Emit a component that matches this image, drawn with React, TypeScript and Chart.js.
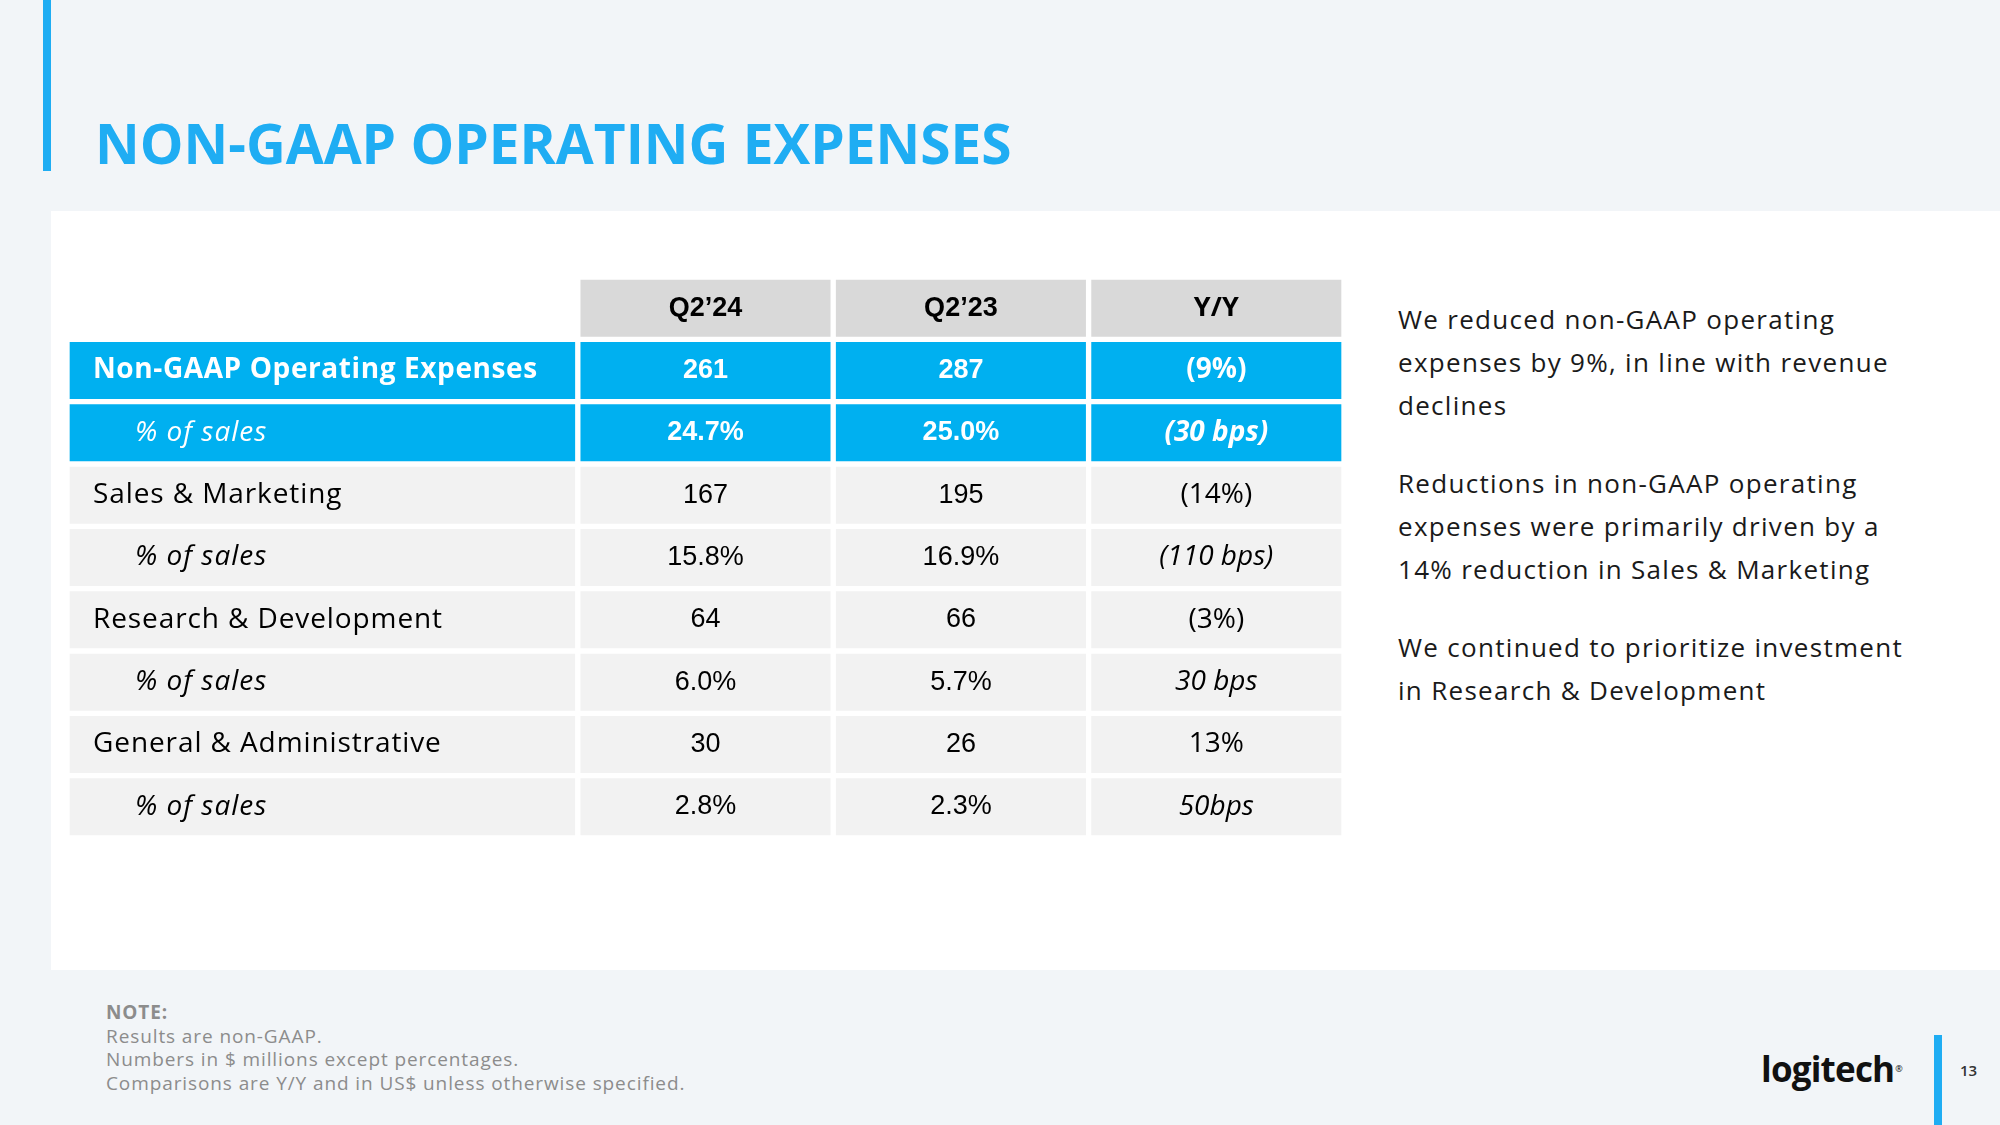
import React, { useEffect, useRef } from "react";
import { Chart, registerables } from "chart.js";

Chart.register(...registerables);

// ---------- data ----------
const rowLabels = [
  "",
  "Non-GAAP Operating Expenses",
  "% of sales",
  "Sales & Marketing",
  "% of sales",
  "Research & Development",
  "% of sales",
  "General & Administrative",
  "% of sales",
];
const columnHeaders = ["Q2’24", "Q2’23", "Y/Y"];
const q224Values = ["261", "24.7%", "167", "15.8%", "64", "6.0%", "30", "2.8%"];
const q223Values = ["287", "25.0%", "195", "16.9%", "66", "5.7%", "26", "2.3%"];
const yoyValues = ["(9%)", "(30 bps)", "(14%)", "(110 bps)", "(3%)", "30 bps", "13%", "50bps"];
const highlightedRows = [1, 2];
const subRows = [2, 4, 6, 8];

const commentary = [
  ["We reduced non-GAAP operating", "expenses by 9%, in line with revenue", "declines"],
  ["Reductions in non-GAAP operating", "expenses were primarily driven by a", "14% reduction in Sales & Marketing"],
  ["We continued to prioritize investment", "in Research & Development"],
];
const noteTitle = "NOTE:";
const noteLines = [
  "Results are non-GAAP.",
  "Numbers in $ millions except percentages.",
  "Comparisons are Y/Y and in US$ unless otherwise specified.",
];
const slideTitle = "NON-GAAP OPERATING EXPENSES";
const pageNumber = "13";

// ---------- styles ----------
const BLUE = "#1fadf3";
const TABLE_BLUE = "#00b0f0";
const HEADER_GREY = "#d9d9d9";
const CELL_GREY = "#f2f2f2";
const BG = "#f2f5f8";
const SANS = "'Open Sans', sans-serif";
const NUM = "'Liberation Sans', Arial, sans-serif";

const valueColumns = [q224Values, q223Values, yoyValues];

function cellColor(i: number) {
  if (i === 0) return HEADER_GREY;
  if (highlightedRows.includes(i)) return TABLE_BLUE;
  return CELL_GREY;
}

const tableTextPlugin = {
  id: "tableText",
  afterDatasetsDraw(chart: any) {
    const ctx = chart.ctx;
    ctx.save();
    ctx.textBaseline = "middle";
    chart.data.datasets.forEach((ds: any, di: number) => {
      const meta = chart.getDatasetMeta(di);
      meta.data.forEach((el: any, i: number) => {
        if (ds.data[i] == null) return;
        const { x, y, base } = el.getProps(["x", "y", "base"], true);
        const left = Math.min(x, base);
        const right = Math.max(x, base);
        const hl = highlightedRows.includes(i);
        const sub = subRows.includes(i);
        ctx.fillStyle = hl ? "#ffffff" : "#000000";
        if (di === 0) {
          const text = rowLabels[i];
          ctx.textAlign = "left";
          if (i === 1) {
            ctx.font = `700 28px ${SANS}`;
            ctx.letterSpacing = "0.6px";
          } else if (sub) {
            ctx.font = `italic 400 28px ${SANS}`;
            ctx.letterSpacing = "1px";
          } else {
            ctx.font = `400 28px ${SANS}`;
            ctx.letterSpacing = "0.9px";
          }
          ctx.fillText(text, left + (sub ? 68 : 26), y);
          ctx.letterSpacing = "0px";
          return;
        }
        const c = di - 1;
        const text = i === 0 ? columnHeaders[c] : valueColumns[c][i - 1];
        ctx.textAlign = "center";
        if (i === 0) {
          ctx.font = c === 2 ? `700 27px ${SANS}` : `700 27px ${NUM}`;
        } else if (c < 2) {
          ctx.font = `${hl ? 700 : 400} 27px ${NUM}`;
        } else {
          const it = text.includes("bps") ? "italic " : "";
          ctx.font = `${it}${hl ? 700 : 400} 28px ${SANS}`;
        }
        ctx.fillText(text, (left + right) / 2, y);
      });
    });
    ctx.restore();
  },
};

function TableChart() {
  const ref = useRef<HTMLCanvasElement>(null);
  useEffect(() => {
    if (!ref.current) return;
    const common = {
      backgroundColor: rowLabels.map((_, i) => cellColor(i)),
      borderColor: "#ffffff",
      borderWidth: 3,
      borderSkipped: false,
      barPercentage: 1,
      categoryPercentage: 1,
      grouped: false,
    };
    const chart = new Chart(ref.current, {
      type: "bar",
      data: {
        labels: rowLabels,
        datasets: [
          { label: "Line item", data: rowLabels.map((_, i) => (i === 0 ? null : [0, 2])), ...common } as any,
          ...columnHeaders.map((h, c) => ({
            label: h,
            data: rowLabels.map(() => [2 + c, 3 + c]),
            ...common,
          })) as any,
        ],
      },
      options: {
        indexAxis: "y",
        responsive: false,
        maintainAspectRatio: false,
        animation: false,
        devicePixelRatio: 1,
        layout: { padding: 0 },
        plugins: { legend: { display: false }, tooltip: { enabled: false } },
        scales: {
          x: { type: "linear", min: 0, max: 5, display: false },
          y: { type: "category", display: false, offset: true },
        },
      } as any,
      plugins: [tableTextPlugin],
    });
    return () => chart.destroy();
  }, []);
  return (
    <canvas
      ref={ref}
      width={1277}
      height={561}
      style={{ position: "absolute", left: 67, top: 277, width: 1277, height: 561 }}
    />
  );
}

export default function App() {
  return (
    <div
      style={{
        position: "absolute",
        left: 0,
        top: 0,
        width: 2000,
        height: 1125,
        background: BG,
        overflow: "hidden",
        fontFamily: SANS,
      }}
    >
      <div style={{ position: "absolute", left: 43, top: 0, width: 8, height: 171, background: BLUE }} />
      <div
        style={{
          position: "absolute",
          left: 95,
          top: 115,
          fontSize: 55,
          lineHeight: "55px",
          fontWeight: 700,
          color: BLUE,
          whiteSpace: "nowrap",
        }}
      >
        {slideTitle}
      </div>
      <div style={{ position: "absolute", left: 51, top: 211, width: 1949, height: 759, background: "#ffffff" }} />
      <TableChart />
      <div
        style={{
          position: "absolute",
          left: 1398,
          top: 298,
          color: "#1a1a1a",
          fontSize: 26,
          lineHeight: "43px",
          letterSpacing: 1.3,
        }}
      >
        {commentary.map((para, pi) => (
          <div key={pi} style={{ marginBottom: 35 }}>
            {para.map((line, li) => (
              <div key={li} style={{ whiteSpace: "nowrap" }}>
                {line}
              </div>
            ))}
          </div>
        ))}
      </div>
      <div
        style={{
          position: "absolute",
          left: 106,
          top: 1001,
          color: "#8c8c8c",
          fontSize: 19,
          lineHeight: "23.7px",
          letterSpacing: 0.9,
        }}
      >
        <div style={{ fontWeight: 700 }}>{noteTitle}</div>
        {noteLines.map((l, i) => (
          <div key={i} style={{ whiteSpace: "nowrap" }}>
            {l}
          </div>
        ))}
      </div>
      <div
        style={{
          position: "absolute",
          left: 1761,
          top: 1051,
          fontSize: 35,
          lineHeight: "35px",
          fontWeight: 700,
          letterSpacing: -0.8,
          color: "#111111",
        }}
      >
        logitech
        <span style={{ fontSize: 9, fontWeight: 400, verticalAlign: "top", marginLeft: 1 }}>®</span>
      </div>
      <div style={{ position: "absolute", left: 1934, top: 1035, width: 8, height: 90, background: BLUE }} />
      <div
        style={{
          position: "absolute",
          left: 1960,
          top: 1063,
          fontSize: 15,
          lineHeight: "15px",
          fontWeight: 600,
          color: "#333333",
        }}
      >
        {pageNumber}
      </div>
    </div>
  );
}
